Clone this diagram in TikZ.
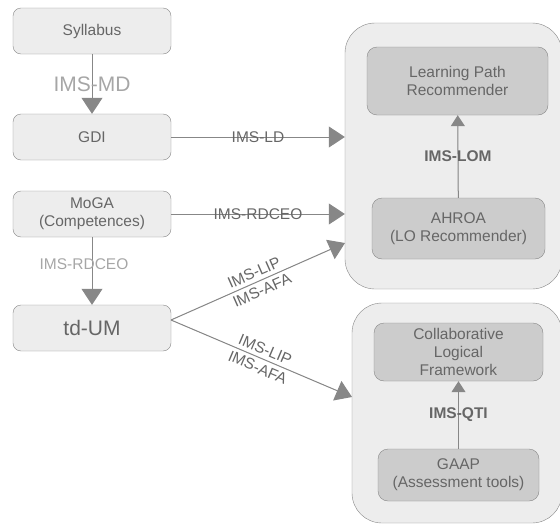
\documentclass[tikz,border=0pt]{standalone}
\usepackage{fontspec}
\setmainfont{Liberation Sans}
\usetikzlibrary{arrows.meta,positioning}
\colorlet{boxFill}{black!7}
\colorlet{innerFill}{black!20}
\colorlet{penGray}{black!47}
\colorlet{textGray}{black!60}
\colorlet{labelGray}{black!35}
\tikzset{>={Triangle[length=16pt,width=21pt]}}
\tikzset{
  box/.style={draw=penGray,fill=boxFill,rounded corners=8pt,minimum width=158pt,
    minimum height=46pt,text=textGray,align=center,font=\fontsize{15.5}{18}\selectfont},
  group/.style={draw=penGray,fill=boxFill,rounded corners=30pt},
  inner/.style={draw=penGray,fill=innerFill,rounded corners=10pt,text=textGray,
    align=center,font=\fontsize{15.5}{18}\selectfont},
  link/.style={draw=penGray,fill=penGray,line width=1pt},
  small/.style={-{Triangle[length=11pt,width=14pt]}},
  lbl/.style={text=textGray,font=\fontsize{15.5}{18}\selectfont},
  light/.style={text=labelGray},
  twoline/.style={lbl,sloped,align=center,font=\fontsize{15.5}{19.5}\selectfont},
}
\begin{document}
\begin{tikzpicture}[x=1pt,y=-1pt]
  \useasboundingbox (0,0) rectangle (560,525);
  % left column
  \node [box] (syl) at (92,31) {Syllabus};
  \node [box] (gdi) at (92,137) {GDI};
  \node [box] (moga) at (92,214) {MoGA\\(Competences)};
  \node [box,font=\fontsize{21}{24}\selectfont] (tdum) at (92,328) {td-UM};
  % right groups
  \node [group,minimum width=217pt,minimum height=266pt] (grp1) at (453.5,156) {};
  \node [group,minimum width=210pt,minimum height=220pt] (grp2) at (457,413) {};
  \node [inner,minimum width=181pt,minimum height=68pt] (lpr) at (457.5,81) {Learning Path\\Recommender};
  \node [inner,minimum width=173pt,minimum height=61pt] (ahroa) at (458.5,228.5) {AHROA\\(LO Recommender)};
  \node [inner,minimum width=169pt,minimum height=58pt] (clf) at (458.5,352) {Collaborative\\Logical\\Framework};
  \node [inner,minimum width=161pt,minimum height=52pt] (gaap) at (458.5,475) {GAAP\\(Assessment tools)};
  \coordinate (in1) at (345,243);
  \coordinate (in2) at (352,397);
  \coordinate (out) at (171,320);
  % links
  \draw [link,->] (syl) -- node [lbl,light,font=\fontsize{21}{24}\selectfont] {IMS-MD} (gdi);
  \draw [link,->] (moga) -- node [lbl,light,pos=0.4,xshift=-8pt] {IMS-RDCEO} (tdum);
  \draw [link,->] (gdi) -- node [lbl] {IMS-LD} (grp1.west |- gdi);
  \draw [link,->] (moga) -- node [lbl] {IMS-RDCEO} (grp1.west |- moga);
  \draw [link,->] (out) -- node [twoline] {IMS-LIP\\IMS-AFA} (in1);
  \draw [link,->] (out) -- node [twoline] {IMS-LIP\\IMS-AFA} (in2);
  \draw [link,small] (ahroa) -- node [lbl,font=\bfseries\fontsize{15.5}{18}\selectfont] {IMS-LOM} (lpr);
  \draw [link,small] (gaap) -- node [lbl,font=\bfseries\fontsize{15.5}{18}\selectfont] {IMS-QTI} (clf);
\end{tikzpicture}
\end{document}
